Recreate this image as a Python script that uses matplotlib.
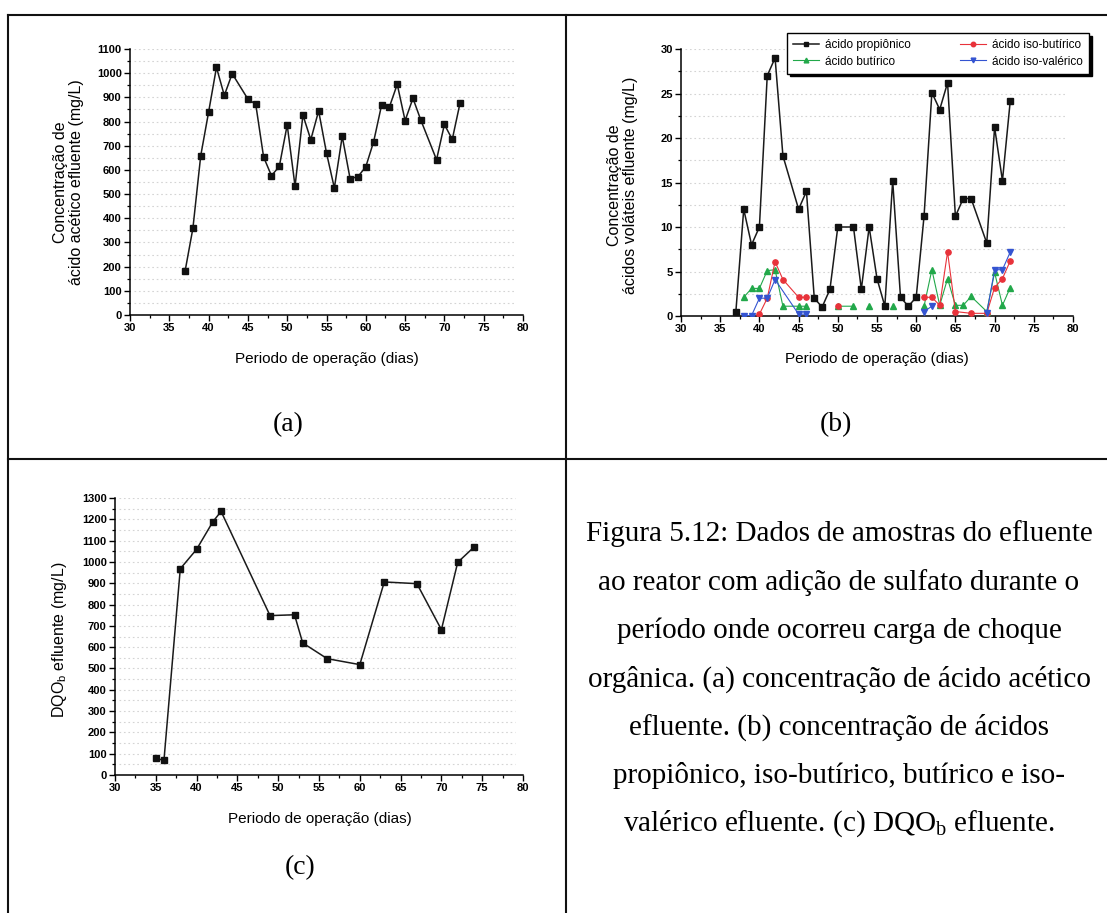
import numpy as np
import matplotlib
matplotlib.use("Agg")
import matplotlib.pyplot as plt
from matplotlib.lines import Line2D
from matplotlib.ticker import MultipleLocator

nan = np.nan

# ---- (a) ácido acético efluente (mg/L) ----
dias_a = [37, 38, 39, 40, 41, 42, 43, 45, 46, 47, 48, 49, 50, 51, 52, 53, 54,
          55, 56, 57, 58, 59, 60, 61, 62, 63, 64, 65, 66, 67, 69, 70, 71, 72]
acetico = [180, 358, 659, 839, 1024, 908, 998, 893, 871, 653, 576, 615, 786,
           532, 827, 725, 844, 670, 525, 739, 564, 572, 613, 717, 867, 860,
           954, 804, 896, 806, 642, 788, 726, 878]

# ---- (b) ácidos voláteis efluente (mg/L) ----
dias_prop = [37, 38, 39, 40, 41, 42, 43, 45, 46, 47, 48, 49, 50, 52, 53, 54,
             55, 56, 57, 58, 59, 60, 61, 62, 63, 64, 65, 66, 67, 69, 70, 71, 72]
propionico = [0.5, 12.0, 8.0, 10.0, 27.0, 29.0, 18.0, 12.0, 14.0, 2.0, 1.0,
              3.0, 10.0, 10.0, 3.0, 10.0, 4.2, 1.1, 15.2, 2.1, 1.1, 2.1, 11.2,
              25.1, 23.2, 26.2, 11.2, 13.2, 13.2, 8.2, 21.2, 15.2, 24.2]

dias_but = [38, 39, 40, 41, 42, 43, 45, 46, 47, 50, 52, 53, 54, 55, 57, 58,
            61, 62, 63, 64, 65, 66, 67, 69, 70, 71, 72]
butirico = [2.1, 3.1, 3.1, 5.1, 5.2, 1.1, 1.1, 1.1, nan, 1.1, 1.1, nan, 1.1,
            nan, 1.1, nan, 1.1, 5.2, 1.2, 4.2, 1.2, 1.2, 2.2, 0.5, 4.9, 1.2,
            3.2]

dias_isobut = [40, 41, 42, 43, 45, 46, 47, 50, 51, 61, 62, 63, 64, 65, 67,
               69, 70, 71, 72]
iso_butirico = [0.2, 2.0, 6.1, 4.1, 2.1, 2.1, nan, 1.1, nan, 2.1, 2.1, 1.2,
                7.2, 0.5, 0.3, 0.3, 3.2, 4.2, 6.2]

dias_isoval = [38, 39, 40, 41, 42, 45, 46, 47, 61, 62, 63, 69, 70, 71, 72]
iso_valerico = [0.05, 0.05, 2.0, 2.0, 4.1, 0.2, 0.2, nan, 0.5, 1.1, nan, 0.3,
                5.2, 5.2, 7.2]

# ---- (c) DQOb efluente (mg/L) ----
dias_c = [35, 36, 38, 40, 42, 43, 49, 52, 53, 56, 60, 63, 67, 70, 72, 74]
dqo_b = [78, 69, 968, 1059, 1189, 1237, 748, 752, 620, 546, 518, 906, 898,
         682, 998, 1070]

xticks = list(range(30, 81, 5))

legenda = ["ácido propiônico", "ácido butírico", "ácido iso-butírico",
           "ácido iso-valérico"]

legenda_fig = [
    "Figura 5.12: Dados de amostras do efluente",
    "ao reator com adição de sulfato durante o",
    "período onde ocorreu carga de choque",
    "orgânica. (a) concentração de ácido acético",
    "efluente. (b) concentração de ácidos",
    "propiônico, iso-butírico, butírico e iso-",
    "valérico efluente. (c) DQO$_\\mathregular{b}$ efluente.",
]

plt.rcParams['font.family'] = ['Liberation Sans', 'DejaVu Sans']

W, H = 1107, 913
fig = plt.figure(figsize=(W / 100, H / 100), dpi=100)
fig.patch.set_facecolor('white')


def axes_px(x0, x1, y0, y1):
    return fig.add_axes([x0 / W, 1 - y1 / H, (x1 - x0) / W, (y1 - y0) / H])


def style(ax, ymax, ystep, grid_step, xlabel, ylabel, ylab_pos, xlab_pos):
    ax.set_xlim(30, 80)
    ax.set_ylim(0, ymax)
    for s in ('top', 'right'):
        ax.spines[s].set_visible(False)
    for s in ('left', 'bottom'):
        ax.spines[s].set_linewidth(1.1)
    ax.set_xticks(xticks)
    ax.set_xticklabels([str(t) for t in xticks], fontsize=8,
                       fontweight='bold')
    yt = np.arange(0, ymax + ystep / 2, ystep)
    ax.set_yticks(yt)
    ax.set_yticklabels([f"{v:g}" for v in yt], fontsize=8,
                       fontweight='bold')
    ax.xaxis.set_minor_locator(MultipleLocator(2.5))
    ax.yaxis.set_minor_locator(MultipleLocator(ystep / 2))
    ax.tick_params(which='major', direction='out', length=4, width=1.0,
                   pad=2)
    ax.tick_params(which='minor', direction='out', length=2.5, width=0.9)
    # faint dotted reference lines
    for g in np.arange(grid_step, ymax + grid_step / 2, grid_step):
        ax.axhline(g, xmin=0.01, xmax=0.98, color='#d4d4d4',
                   ls=(0, (1.5, 2.5)), lw=0.8, zorder=0)
    ax.set_xlabel(xlabel, fontsize=11)
    ax.set_ylabel(ylabel, fontsize=11.5, linespacing=1.1)
    ax.xaxis.set_label_coords(*xlab_pos)
    ax.yaxis.set_label_coords(*ylab_pos)


xlabel = "Periodo de operação (dias)"

# (a)
ax_a = axes_px(130, 523, 49, 315)
ax_a.plot(dias_a, acetico, color='#1a1a1a', lw=1.1, marker='s', ms=4.4,
          mfc='#111111', mec='#111111')
style(ax_a, 1100, 100, 50, xlabel,
      "Concentração de\nácido acético efluente (mg/L)",
      (-0.117, 0.5), (0.5, -0.14))

# (b)
ax_b = axes_px(681, 1073, 49, 316)
h_prop, = ax_b.plot(dias_prop, propionico, color='#1a1a1a', lw=1.1,
                    marker='s', ms=3.8, mfc='#111111', mec='#111111',
                    zorder=3)
h_but, = ax_b.plot(dias_but, butirico, color='#22a84a', lw=0.8, marker='^',
                   ms=4.0, mfc='#22a84a', mec='#22a84a', zorder=4)
h_ib, = ax_b.plot(dias_isobut, iso_butirico, color='#e8323a', lw=0.8,
                  marker='o', ms=3.8, mfc='#e8323a', mec='#e8323a', zorder=4)
h_iv, = ax_b.plot(dias_isoval, iso_valerico, color='#3454d1', lw=0.8,
                  marker='v', ms=4.0, mfc='#3454d1', mec='#3454d1', zorder=4)
style(ax_b, 30, 5, 2.5, xlabel,
      "Concentração de\nácidos voláteis efluente (mg/L)",
      (-0.11, 0.49), (0.5, -0.135))
leg = ax_b.legend([h_prop, h_but, h_ib, h_iv], legenda, ncol=2,
                  loc='upper left', bbox_to_anchor=(787 / W, 1 - 33 / H),
                  bbox_transform=fig.transFigure, borderaxespad=0,
                  fontsize=8.5, frameon=True, fancybox=False,
                  shadow={'color': 'k', 'alpha': 1.0}, handlelength=2.2,
                  handletextpad=0.5, columnspacing=4.2, labelspacing=0.4,
                  borderpad=0.5, markerscale=0.85)
leg.get_frame().set_edgecolor('black')
leg.get_frame().set_linewidth(1.0)

# (c)
ax_c = axes_px(115, 523, 498, 775)
ax_c.plot(dias_c, dqo_b, color='#1a1a1a', lw=1.1, marker='s', ms=4.4,
          mfc='#111111', mec='#111111')
style(ax_c, 1300, 100, 50, xlabel, "DQO$_\\mathregular{b}$ efluente (mg/L)",
      (-0.113, 0.487), (0.502, -0.134))

# panel letters
serif = ['Liberation Serif', 'DejaVu Serif']
fig.text(288 / W, 1 - 425 / H, "(a)", fontsize=20, family=serif,
         ha='center', va='center')
fig.text(836 / W, 1 - 425 / H, "(b)", fontsize=20, family=serif,
         ha='center', va='center')
fig.text(300 / W, 1 - 868 / H, "(c)", fontsize=20, family=serif,
         ha='center', va='center')

# caption lines
for i, linha in enumerate(legenda_fig):
    fig.text(839 / W, 1 - (534 + 48.3 * i) / H, linha, fontsize=21,
             family=serif, ha='center', va='center')

# table rules
rule = dict(color='#111111', lw=1.5, transform=fig.transFigure)
fig.add_artist(Line2D([8 / W, 8 / W], [0, 1 - 15 / H], **rule))
fig.add_artist(Line2D([8 / W, 1], [1 - 15 / H, 1 - 15 / H], **rule))
fig.add_artist(Line2D([566 / W, 566 / W], [0, 1 - 15 / H], **rule))
fig.add_artist(Line2D([8 / W, 1], [1 - 459 / H, 1 - 459 / H], **rule))

fig.savefig("out.png", dpi=100)
